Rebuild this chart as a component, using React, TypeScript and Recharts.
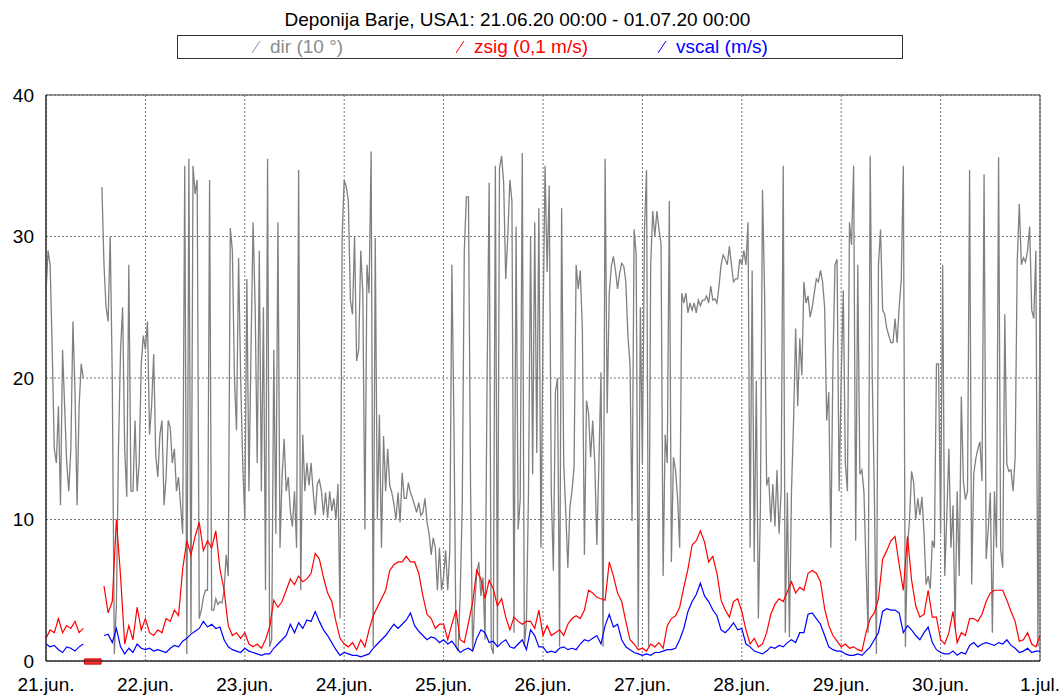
import React from 'react';
import { LineChart, Line, XAxis, YAxis, CartesianGrid, ReferenceArea } from 'recharts';

// 21.06.20 00:00 .. 01.07.20 00:00, one row per day.
// null = no data (logger gap on 21.06.)
const dayLabels = ['21.jun.', '22.jun.', '23.jun.', '24.jun.', '25.jun.', '26.jun.', '27.jun.', '28.jun.', '29.jun.', '30.jun.', '1.jul.'];
const yTicks = [0, 10, 20, 30, 40];

// wind direction, units of 10 °, half-hourly (481 values)
const dir = [
  26, 29, 28, 22, 15, 14, 18, 11, 22, 18, 14, 12, 15, 24, 19, 11, 18, 21, 20, null, null, null, null, null, null, null, null, 33.5, 28, 25, 24, 30, 20, 0.5, 4, 15, 22, 25, 15, 11.6, 28, 12, 12, 17, 12, 14, 21, 23,
  22, 24, 16, 18, 21.7, 14.5, 13, 16, 17, 11, 13, 17, 16.5, 14, 15, 12, 13, 11, 9, 35, 0.5, 35.5, 2, 35, 33, 34, 3, 3.6, 4.5, 5, 5, 34, 3.6, 3.6, 4.4, 4, 4.2, 4.1, 5, 7.5, 6, 30.6, 29, 20, 16.3, 28.5, 20, 14,
  10, 27, 12, 22, 31, 25, 14, 29, 12, 25, 5, 35.5, 1, 1.5, 22, 9, 31, 8, 13, 15.7, 12, 13, 10.6, 9.5, 12, 8, 34.7, 5, 16, 12, 14, 12.4, 14, 12, 10.3, 12.5, 12.8, 12, 10.3, 11.9, 10.1, 12, 10.6, 11.5, 10, 12.5, 3, 30,
  34, 33.5, 32.5, 25.5, 24.5, 30, 21.2, 22, 29, 26, 9.3, 28, 26, 36, 1, 29.9, 10, 17.4, 8, 15.9, 12, 15, 12.4, 11.9, 11.1, 10, 11.9, 9.8, 13.3, 11.5, 11.5, 12.6, 11.9, 11.5, 11, 10.5, 11.2, 10.3, 10.5, 11.5, 9.8, 9, 7.5, 8.7, 8, 5, 8, 5,
  6, 7.8, 5, 7.8, 28, 16.7, 1, 0.7, 4.6, 11, 29, 32.8, 32.8, 12.6, 0.7, 4, 6.2, 7, 4.6, 5.9, 1.5, 20, 33.8, 1, 0.5, 35, 1, 34.8, 35.7, 33.8, 27, 30, 34, 32.5, 2, 30.7, 9.3, 11.4, 35.9, 1, 2.8, 12, 30, 13.2, 31, 14.7, 32, 8,
  23.5, 35, 27.5, 33.6, 12, 6.4, 19, 20, 1, 32, 14, 10.5, 6.6, 10.9, 12, 13.7, 28, 26.3, 27.6, 23.5, 7.5, 18.4, 17.5, 14.4, 17, 14, 8.2, 14, 20.4, 1, 35.5, 17.5, 26, 27.9, 28.6, 27.6, 26.3, 27.4, 28.1, 27.9, 26.8, 23, 21, 9.9, 30.5, 28.7, 1, 25,
  14, 30.5, 34.7, 1, 28, 31.8, 30, 31.8, 30.5, 29.5, 6, 16, 14, 32.5, 7, 14.4, 13.5, 11.5, 8, 26, 25.3, 26, 24.6, 25.3, 24.8, 25.3, 24.6, 25.5, 25.1, 25.5, 25.5, 25.8, 25.3, 26.5, 25.5, 25.6, 25.3, 26.5, 28, 28.7, 28.4, 28, 29.3, 28, 26.8, 27, 27, 28.4,
  28, 29, 28, 31, 8, 27.6, 7, 19.8, 3, 11, 33.3, 26, 12.4, 13, 9.8, 12.5, 9.5, 13.5, 9, 12, 35, 2, 11.9, 1.7, 12, 17, 23.5, 18, 22.8, 20.2, 26.8, 25.3, 25.8, 24.3, 25, 26, 27, 26.8, 27.6, 26.8, 25, 17, 19, 8, 21, 28, 28.4, 12,
  20, 26.2, 14, 12, 31, 29.4, 35, 8.5, 28, 13.2, 13.5, 11.9, 6.6, 2, 35.7, 20, 12, 0.5, 28, 30.5, 24.8, 24.5, 23.5, 23, 22.5, 22.5, 24.2, 22.5, 25, 27, 35, 1, 8, 10, 13.4, 12.6, 10, 11.5, 10.3, 11.6, 9, 5.4, 6, 5.1, 8.5, 8, 21, 21,
  9, 28, 6, 10.3, 15, 8, 11, 2.3, 12, 6, 18.7, 12.7, 11.4, 12, 34.7, 5.4, 13.2, 14.3, 15, 15.5, 12.7, 34.4, 7.2, 9.3, 11.9, 2, 12, 8, 35.6, 7.9, 6.6, 24.5, 13.9, 13.4, 13.5, 12, 14.4, 28.2, 32.3, 28, 28.5, 28.2, 29, 30.7, 24.8, 24.2, 29, 1,
  25,
];

// sigma w, units of 0,1 m/s, hourly (241 values)
const zsig = [
  1.6, 2.2, 2.0, 3.0, 2.0, 2.5, 2.3, 2.8, 2.0, 2.3, null, null, null, null, 5.3, 3.4, 4.2, 10.0, 6.0, 1.2, 2.5, 1.5, 3.8, 2.2,
  3.0, 2.0, 1.8, 2.2, 2.0, 3.0, 2.8, 3.6, 3.2, 6.5, 8.5, 7.5, 8.8, 9.8, 7.8, 8.5, 8.0, 9.2, 6.5, 5.0, 2.5, 1.8, 2.0, 1.6,
  2.0, 1.2, 1.0, 1.2, 0.9, 1.5, 2.4, 4.3, 3.8, 4.2, 5.0, 5.8, 5.4, 6.0, 5.6, 5.8, 6.2, 7.6, 7.2, 5.9, 4.8, 4.2, 2.8, 1.6,
  1.2, 1.0, 1.3, 0.8, 1.5, 1.0, 2.2, 3.2, 3.8, 4.4, 5.0, 6.4, 6.8, 7.0, 7.0, 7.4, 7.0, 7.0, 6.2, 4.6, 3.3, 3.0, 2.3, 2.6,
  2.6, 1.5, 2.6, 3.6, 1.5, 1.3, 2.7, 4.1, 6.4, 5.8, 4.4, 5.7, 5.1, 3.9, 4.4, 3.1, 2.2, 3.1, 2.8, 2.6, 2.8, 2.8, 2.3, 3.6,
  1.8, 2.5, 1.8, 2.0, 2.2, 1.8, 2.6, 3.0, 3.2, 3.0, 3.6, 5.0, 4.8, 4.5, 4.4, 4.3, 7.0, 6.0, 4.8, 4.2, 2.8, 1.5, 1.2, 0.8,
  0.9, 0.7, 1.2, 1.0, 1.3, 0.9, 2.5, 3.0, 3.2, 3.8, 5.2, 6.5, 8.2, 8.5, 9.2, 8.4, 7.0, 7.4, 6.2, 4.3, 3.6, 3.1, 4.2, 4.4,
  3.5, 2.2, 1.2, 1.6, 1.0, 1.2, 2.0, 3.3, 4.0, 4.4, 4.2, 4.9, 5.6, 4.8, 5.2, 5.0, 6.2, 6.4, 6.2, 5.6, 3.7, 2.5, 1.8, 1.4,
  1.0, 1.2, 0.9, 1.0, 0.8, 0.7, 2.0, 3.0, 3.4, 4.4, 7.2, 7.8, 8.5, 8.8, 6.8, 5.0, 8.8, 5.7, 3.9, 3.1, 3.3, 5.0, 3.1, 3.1,
  1.5, 1.2, 2.0, 3.5, 1.3, 2.0, 1.8, 3.0, 3.0, 2.8, 3.3, 4.2, 4.8, 5.0, 5.0, 5.0, 4.3, 3.5, 2.8, 1.4, 1.5, 2.0, 1.2, 1.0,
  1.8,
];

// scalar wind speed, m/s, hourly (241 values)
const vscal = [
  1.2, 1.0, 1.1, 0.8, 0.6, 1.0, 0.9, 0.7, 1.0, 1.2, null, null, null, null, 1.8, 1.9, 1.3, 2.3, 1.0, 0.5, 0.9, 0.6, 1.2, 0.9,
  0.8, 0.9, 0.7, 0.8, 0.7, 0.6, 0.9, 1.1, 1.0, 1.4, 1.6, 1.9, 2.1, 2.3, 2.8, 2.4, 2.6, 2.3, 2.4, 1.5, 1.0, 0.8, 0.7, 0.6,
  0.9, 0.7, 0.6, 0.5, 0.4, 0.5, 0.5, 0.9, 1.2, 1.5, 1.8, 2.6, 2.0, 2.7, 2.3, 2.9, 2.8, 3.5, 2.8, 2.2, 1.8, 1.3, 0.8, 0.4,
  0.6, 0.5, 0.4, 0.4, 0.3, 0.4, 0.5, 0.9, 1.2, 1.5, 1.8, 2.2, 2.6, 2.3, 2.6, 2.9, 3.4, 2.5, 2.1, 1.8, 1.5, 1.7, 1.6, 1.3,
  1.5, 1.2, 1.4, 1.0, 0.6, 0.8, 0.9, 0.7, 1.6, 2.2, 2.0, 1.3, 1.4, 1.0, 1.3, 1.5, 1.0, 0.9, 1.2, 1.5, 0.8, 2.2, 1.8, 1.0,
  1.0, 0.6, 0.7, 0.6, 0.9, 1.0, 0.8, 0.9, 0.8, 1.2, 1.5, 1.4, 1.6, 1.8, 1.2, 2.5, 3.3, 2.4, 2.6, 1.5, 1.0, 0.8, 0.6, 0.5,
  0.4, 0.5, 0.4, 0.6, 0.6, 0.7, 0.8, 0.8, 0.9, 1.5, 2.3, 3.5, 4.2, 4.7, 5.5, 4.6, 4.2, 3.6, 3.2, 2.2, 2.0, 2.3, 2.7, 2.2,
  2.3, 1.2, 1.0, 0.7, 0.6, 0.5, 0.7, 1.0, 0.9, 1.1, 1.0, 1.3, 1.5, 1.3, 2.0, 2.0, 3.3, 3.4, 3.0, 2.6, 1.8, 1.0, 0.8, 0.7,
  0.7, 0.5, 0.4, 0.4, 0.5, 0.4, 0.7, 1.0, 1.5, 2.0, 3.5, 3.7, 3.6, 3.6, 3.4, 2.0, 2.5, 2.2, 1.8, 1.5, 2.0, 2.4, 1.3, 0.8,
  0.6, 0.5, 0.5, 0.7, 0.4, 0.6, 0.5, 1.1, 1.3, 1.0, 1.2, 1.3, 1.2, 1.1, 1.3, 1.2, 1.5, 1.1, 0.9, 0.6, 0.7, 0.9, 0.6, 0.7,
  0.7,
];

// missing-data interval marker (hours from start)
const gapFrom = 9.3;
const gapTo = 13.3;

const dirData = dir.map((v, i) => ({ t: i / 2, dir: v }));
const speedData = zsig.map((v, i) => ({ t: i, zsig: v, vscal: vscal[i] }));
const dayTicks = dayLabels.map((_, i) => i * 24);

const FONT = '"Liberation Sans", Arial, sans-serif';

const legendItems = [
  { label: 'dir (10 °)', color: '#8c8c8c', left: 249 },
  { label: 'zsig (0,1 m/s)', color: '#ff0000', left: 453 },
  { label: 'vscal (m/s)', color: '#0000ff', left: 655 },
];

export default function App() {
  return (
    <div style={{ position: 'absolute', left: 0, top: 0, width: 1064, height: 698, background: '#fff', fontFamily: FONT }}>
      <div style={{ position: 'absolute', left: 0, top: 8, width: 1035, textAlign: 'center', fontSize: 19, lineHeight: '24px', color: '#000' }}>
        Deponija Barje, USA1: 21.06.20 00:00 - 01.07.20 00:00
      </div>
      <div style={{ position: 'absolute', left: 177, top: 35, width: 724, height: 22, border: '1px solid #333' }} />
      {legendItems.map((it) => (
        <div key={it.label} style={{ position: 'absolute', left: it.left, top: 35, height: 24, display: 'flex', alignItems: 'center', color: it.color, fontSize: 19 }}>
          <svg width={14} height={16} style={{ marginRight: 7 }}>
            <line x1={3} y1={14} x2={11} y2={2} stroke={it.color} strokeWidth={1} />
          </svg>
          <span>{it.label}</span>
        </div>
      ))}
      <div style={{ position: 'absolute', left: 0, top: 0 }}>
        <LineChart width={1064} height={698} margin={{ top: 95, right: 24, bottom: 0, left: 0 }}>
          <CartesianGrid stroke="#777" strokeDasharray="2 2" />
          <XAxis
            dataKey="t"
            type="number"
            domain={[0, 240]}
            ticks={dayTicks}
            interval={0}
            allowDuplicatedCategory={false}
            tickFormatter={(v: number) => dayLabels[Math.round(v / 24)]}
            height={37}
            tickLine={false}
            tickSize={0}
            tickMargin={17}
            stroke="#222"
            tick={{ fill: '#000', fontSize: 19, fontFamily: FONT }}
          />
          <YAxis
            domain={[0, 40]}
            ticks={yTicks}
            interval={0}
            width={46}
            tickLine={false}
            tickSize={0}
            tickMargin={12}
            stroke="#222"
            tick={{ fill: '#000', fontSize: 19, fontFamily: FONT }}
          />
          <ReferenceArea x1={0} x2={240} y1={0} y2={40} fill="none" stroke="#444" strokeWidth={1} />
          <Line data={dirData} type="linear" dataKey="dir" stroke="#808080" strokeWidth={1.3} dot={false} isAnimationActive={false} />
          <Line data={speedData} type="linear" dataKey="zsig" stroke="#ff0000" strokeWidth={1.2} dot={false} isAnimationActive={false} />
          <Line data={speedData} type="linear" dataKey="vscal" stroke="#0000ff" strokeWidth={1.2} dot={false} isAnimationActive={false} />
          <ReferenceArea x1={gapFrom} x2={gapTo} y1={-0.22} y2={0.15} ifOverflow="visible" fill="#ff3333" fillOpacity={1} stroke="#cc0000" />
        </LineChart>
      </div>
    </div>
  );
}
